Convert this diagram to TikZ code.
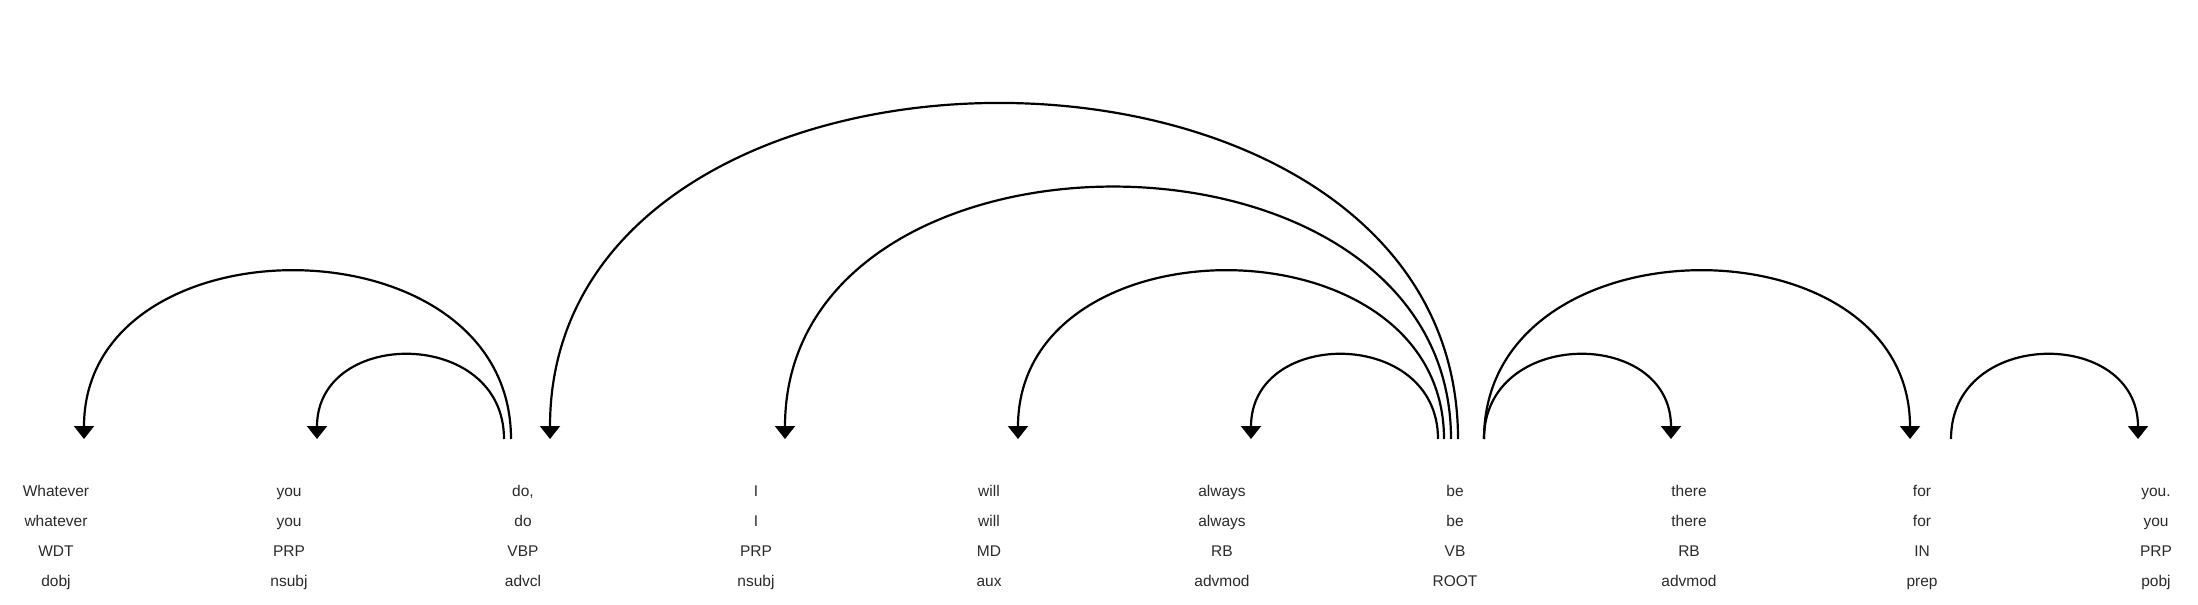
\documentclass[tikz,border=0pt]{standalone}
\usepackage{fontspec}
\setmainfont{Liberation Sans}
\usetikzlibrary{arrows.meta}
\definecolor{txt}{HTML}{2A2A2A}
\begin{document}
\begin{tikzpicture}[x=1pt,y=-1pt,
  tok/.style={anchor=base,inner sep=0pt,font=\fontsize{15.5}{18}\selectfont,text=txt},
  arc/.style={line width=2.2pt,draw=black},
  arcto/.style={arc,-{Triangle[width=20pt,length=13pt]}}]
\useasboundingbox[fill=white] (0,0) rectangle (2198,605);
% columns
\foreach \i/\x/\w/\l/\p/\d in {
  1/56/Whatever/whatever/WDT/dobj,
  2/289/you/you/PRP/nsubj,
  3/523/{do,}/do/VBP/advcl,
  4/756/I/I/PRP/nsubj,
  5/989/will/will/MD/aux,
  6/1222/always/always/RB/advmod,
  7/1455/be/be/VB/ROOT,
  8/1689/there/there/RB/advmod,
  9/1922/for/for/IN/prep,
  10/2156/you./you/PRP/pobj}{
  \node[tok] (w\i) at (\x,496.5) {\w};
  \node[tok] (l\i) at (\x,526.5) {\l};
  \node[tok] (p\i) at (\x,556.5) {\p};
  \node[tok] (d\i) at (\x,586.5) {\d};
}
% arc end points
\coordinate (doA) at (504,439);
\coordinate (doB) at (511,439);
\coordinate (beA) at (1438,439);
\coordinate (beB) at (1444,439);
\coordinate (beC) at (1451,439);
\coordinate (beD) at (1458,439);
\coordinate (beR) at (1484,439);
\coordinate (forR) at (1951,439);
\coordinate (inWhatever) at (84,439);
\coordinate (inYou) at (317,439);
\coordinate (inDo) at (550,439);
\coordinate (inI) at (785,439);
\coordinate (inWill) at (1018,439);
\coordinate (inAlways) at (1251,439);
\coordinate (inThere) at (1671,439);
\coordinate (inFor) at (1910,439);
\coordinate (inYouB) at (2138,439);
% arcs
\draw[arcto] (doB) .. controls +(0,-223) and +(0,-223) .. (inWhatever);
\draw[arcto] (doA) .. controls +(0,-111.5) and +(0,-111.5) .. (inYou);
\draw[arcto] (beD) .. controls +(0,-446) and +(0,-446) .. (inDo);
\draw[arcto] (beC) .. controls +(0,-334.5) and +(0,-334.5) .. (inI);
\draw[arcto] (beB) .. controls +(0,-223) and +(0,-223) .. (inWill);
\draw[arcto] (beA) .. controls +(0,-111.5) and +(0,-111.5) .. (inAlways);
\draw[arcto] (beR) .. controls +(0,-111.5) and +(0,-111.5) .. (inThere);
\draw[arcto] (beR) .. controls +(0,-223) and +(0,-223) .. (inFor);
\draw[arcto] (forR) .. controls +(0,-111.5) and +(0,-111.5) .. (inYouB);
\end{tikzpicture}
\end{document}
